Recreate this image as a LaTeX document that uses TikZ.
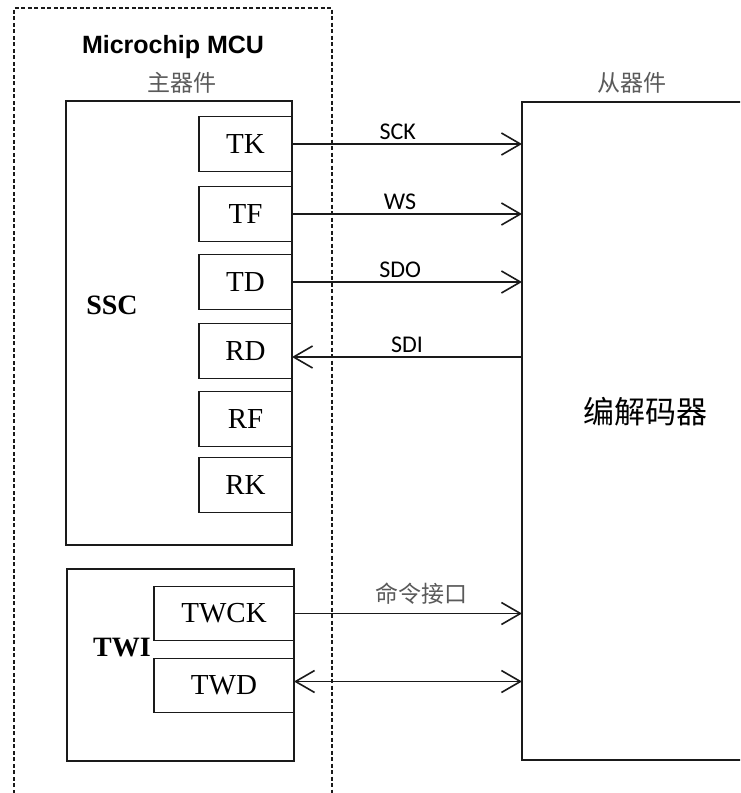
\documentclass[tikz,border=0pt]{standalone}
\usepackage{fontspec}
\setmainfont{Liberation Serif}
\newfontfamily\cjk{Noto Sans CJK SC}
\newfontfamily\arialf{Liberation Sans}
\newfontfamily\calib{Carlito}
\usetikzlibrary{arrows.meta,positioning,calc}
\definecolor{edge}{HTML}{1A1A1A}
\definecolor{greytxt}{HTML}{5A5A5A}

\begin{document}
\begin{tikzpicture}[x=1pt, y=-1pt,
    box/.style={draw=edge, line width=1.7pt, outer sep=0pt, inner sep=0pt},
    pin/.style={box, minimum width=93pt, minimum height=55pt, font=\fontsize{29}{29}\selectfont},
    twpin/.style={box, minimum width=140pt, minimum height=54pt, font=\fontsize{29}{29}\selectfont},
    sig/.style={draw=edge, line width=1.6pt, -{Straight Barb[length=19pt,width=22pt]}},
    lbl/.style={font=\calib\fontsize{24}{24}\selectfont, inner sep=4pt},
    cn/.style={font=\cjk\fontsize{23}{23}\selectfont, text=greytxt},
]
\useasboundingbox (0,0) rectangle (740,793);
\clip (0,0) rectangle (740,793);

% master side
\draw[edge, line width=1.3pt, dash pattern=on 4pt off 2.5pt] (14,800) -- (14,8) -- (332,8) -- (332,800);
\node[font=\arialf\bfseries\fontsize{25}{25}\selectfont] (mcu) at (173,47) {Microchip MCU};
\node[cn] (master) at (182,83) {主器件};

\node[box, minimum width=226pt, minimum height=444pt] (ssc) at (179,323) {};
\node[font=\bfseries\fontsize{28}{28}\selectfont] (ssclbl) at (112,305) {SSC};
\node[pin] (tk) at (245.5,144) {TK};
\node[pin] (tf) at (245.5,214) {TF};
\node[pin] (td) at (245.5,282) {TD};
\node[pin] (rd) at (245.5,351) {RD};
\node[pin] (rf) at (245.5,419) {RF};
\node[pin] (rk) at (245.5,485) {RK};

\node[box, minimum width=227pt, minimum height=192pt] (twi) at (180.5,665) {};
\node[font=\bfseries\fontsize{28}{28}\selectfont] (twilbl) at (122,648) {TWI};
\node[twpin] (twck) at (224,613.5) {TWCK};
\node[twpin] (twd) at (224,685.5) {TWD};

% slave side
\node[cn] (slave) at (632,83) {从器件};
\node[box, minimum width=240pt, minimum height=658pt] (codec) at (642,431) {};
\node[font=\cjk\fontsize{31}{31}\selectfont] (codeclbl) at (645,412) {编解码器};

% signals
\draw[sig] (tk.east) -- node[lbl, above, pos=0.46] (sck) {SCK} (tk.east -| codec.west);
\draw[sig] (tf.east) -- node[lbl, above, pos=0.47] (ws) {WS} (tf.east -| codec.west);
\draw[sig] (td.east) -- node[lbl, above, pos=0.47] (sdo) {SDO} (td.east -| codec.west);
\draw[sig] ([yshift=-6pt]rd.east -| codec.west) -- node[lbl, above, pos=0.5] (sdi) {SDI} ([yshift=-6pt]rd.east);
\draw[sig] (twck.east) -- node[cn, above, inner sep=8pt, pos=0.56] (cmd) {命令接口} (twck.east -| codec.west);
\draw[sig, {Straight Barb[length=19pt,width=22pt]}-{Straight Barb[length=19pt,width=22pt]}] ([yshift=4pt]twd.east) -- ([yshift=4pt]twd.east -| codec.west);
\end{tikzpicture}
\end{document}
